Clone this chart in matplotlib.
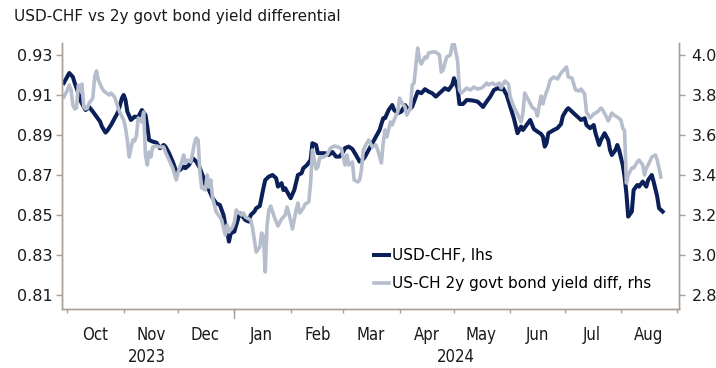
import matplotlib
matplotlib.use("Agg")
import matplotlib.pyplot as plt
import matplotlib.dates as mdates
import matplotlib.transforms as mtransforms
import pandas as pd

plt.rcParams['font.family'] = ['DejaVu Sans']

# USD-CHF spot (lhs)
usd_dates = [
    '2023-09-29', '2023-10-02', '2023-10-04', '2023-10-05', '2023-10-07', '2023-10-08',
    '2023-10-10', '2023-10-11', '2023-10-13', '2023-10-15', '2023-10-17', '2023-10-19',
    '2023-10-20', '2023-10-22', '2023-10-23', '2023-10-25', '2023-10-27', '2023-10-29',
    '2023-10-31', '2023-11-01', '2023-11-02', '2023-11-03', '2023-11-05', '2023-11-07',
    '2023-11-09', '2023-11-11', '2023-11-13', '2023-11-14', '2023-11-15', '2023-11-17',
    '2023-11-19', '2023-11-21', '2023-11-23', '2023-11-24', '2023-11-26', '2023-11-28',
    '2023-11-30', '2023-12-02', '2023-12-04', '2023-12-05', '2023-12-07', '2023-12-09',
    '2023-12-11', '2023-12-13', '2023-12-15', '2023-12-16', '2023-12-18', '2023-12-20',
    '2023-12-22', '2023-12-24', '2023-12-26', '2023-12-27', '2023-12-28', '2023-12-29',
    '2023-12-30', '2024-01-01', '2024-01-02', '2024-01-04', '2024-01-05', '2024-01-07',
    '2024-01-09', '2024-01-10', '2024-01-12', '2024-01-13', '2024-01-15', '2024-01-17',
    '2024-01-18', '2024-01-20', '2024-01-22', '2024-01-24', '2024-01-25', '2024-01-27',
    '2024-01-28', '2024-01-29', '2024-01-31', '2024-02-01', '2024-02-03', '2024-02-05',
    '2024-02-07', '2024-02-08', '2024-02-10', '2024-02-12', '2024-02-13', '2024-02-15',
    '2024-02-16', '2024-02-18', '2024-02-20', '2024-02-22', '2024-02-24', '2024-02-26',
    '2024-02-28', '2024-03-01', '2024-03-02', '2024-03-04', '2024-03-06', '2024-03-08',
    '2024-03-10', '2024-03-12', '2024-03-13', '2024-03-16', '2024-03-18', '2024-03-21',
    '2024-03-23', '2024-03-24', '2024-03-26', '2024-03-28', '2024-03-29', '2024-03-31',
    '2024-04-02', '2024-04-04', '2024-04-06', '2024-04-08', '2024-04-10', '2024-04-11',
    '2024-04-13', '2024-04-15', '2024-04-17', '2024-04-19', '2024-04-21', '2024-04-23',
    '2024-04-24', '2024-04-26', '2024-04-28', '2024-04-30', '2024-05-01', '2024-05-03',
    '2024-05-04', '2024-05-06', '2024-05-08', '2024-05-11', '2024-05-14', '2024-05-16',
    '2024-05-17', '2024-05-19', '2024-05-21', '2024-05-23', '2024-05-25', '2024-05-27',
    '2024-05-28', '2024-05-30', '2024-06-01', '2024-06-03', '2024-06-05', '2024-06-07',
    '2024-06-08', '2024-06-10', '2024-06-12', '2024-06-14', '2024-06-16', '2024-06-18',
    '2024-06-19', '2024-06-20', '2024-06-21', '2024-06-22', '2024-06-25', '2024-06-27',
    '2024-06-29', '2024-06-30', '2024-07-02', '2024-07-03', '2024-07-05', '2024-07-07',
    '2024-07-09', '2024-07-10', '2024-07-12', '2024-07-13', '2024-07-15', '2024-07-17',
    '2024-07-18', '2024-07-20', '2024-07-21', '2024-07-23', '2024-07-25', '2024-07-26',
    '2024-07-27', '2024-07-29', '2024-07-30', '2024-07-31', '2024-08-02', '2024-08-03',
    '2024-08-04', '2024-08-05', '2024-08-07', '2024-08-08', '2024-08-10', '2024-08-11',
    '2024-08-13', '2024-08-15', '2024-08-16', '2024-08-18', '2024-08-19', '2024-08-21',
    '2024-08-22', '2024-08-24',
]
usd_chf = [
    0.916, 0.921, 0.919, 0.916, 0.911, 0.9075,
    0.904, 0.9025, 0.904, 0.9017, 0.8992, 0.8967,
    0.8942, 0.8912, 0.8922, 0.895, 0.8984, 0.9017,
    0.9084, 0.910, 0.9075, 0.9017, 0.8975, 0.8992,
    0.8989, 0.9025, 0.900, 0.8942, 0.8875, 0.8867,
    0.8862, 0.8834, 0.885, 0.8842, 0.8809, 0.8767,
    0.8717, 0.8725, 0.8742, 0.8734, 0.875, 0.8784,
    0.8767, 0.8734, 0.8684, 0.865, 0.8625, 0.8584,
    0.8559, 0.855, 0.850, 0.845, 0.8417, 0.8367,
    0.8409, 0.8417, 0.845, 0.8509, 0.850, 0.8475,
    0.8467, 0.850, 0.8517, 0.8534, 0.8545, 0.8635,
    0.8675, 0.8692, 0.870, 0.8684, 0.8642, 0.8659,
    0.8625, 0.8634, 0.860, 0.8584, 0.8625, 0.870,
    0.8709, 0.8734, 0.875, 0.8775, 0.8859, 0.885,
    0.8809, 0.8809, 0.8809, 0.880, 0.8815, 0.8792,
    0.8792, 0.8817, 0.8835, 0.8842, 0.883, 0.880,
    0.8767, 0.878, 0.8792, 0.8842, 0.8875, 0.8925,
    0.8984, 0.8984, 0.9025, 0.905, 0.9025, 0.9009,
    0.9017, 0.905, 0.9025, 0.9042, 0.9092, 0.9117,
    0.9109, 0.9129, 0.9117, 0.9109, 0.9092, 0.9109,
    0.9117, 0.9134, 0.9125, 0.915, 0.9184, 0.9134,
    0.9055, 0.9055, 0.9075, 0.9073, 0.9067, 0.905,
    0.904, 0.9067, 0.9092, 0.9125, 0.9134, 0.9129,
    0.9134, 0.910, 0.9042, 0.8984, 0.8909, 0.8942,
    0.8925, 0.895, 0.8975, 0.893, 0.8917, 0.8905,
    0.8892, 0.8842, 0.8859, 0.8909, 0.8925, 0.8934,
    0.8955, 0.8995, 0.9025, 0.9034, 0.9017, 0.900,
    0.8984, 0.8975, 0.8984, 0.895, 0.8934, 0.895,
    0.8909, 0.885, 0.8875, 0.8909, 0.8875, 0.8825,
    0.880, 0.8825, 0.885, 0.8825, 0.875, 0.8692,
    0.8609, 0.8492, 0.8517, 0.8625, 0.865, 0.8642,
    0.8667, 0.8642, 0.8675, 0.870, 0.8667, 0.8592,
    0.8534, 0.8517,
]

# US-CH 2y government bond yield differential, % (rhs)
diff_dates = [
    '2023-09-29', '2023-10-01', '2023-10-02', '2023-10-03', '2023-10-04', '2023-10-05',
    '2023-10-06', '2023-10-07', '2023-10-08', '2023-10-09', '2023-10-10', '2023-10-11',
    '2023-10-12', '2023-10-13', '2023-10-15', '2023-10-16', '2023-10-17', '2023-10-18',
    '2023-10-20', '2023-10-21', '2023-10-24', '2023-10-25', '2023-10-27', '2023-10-29',
    '2023-10-30', '2023-11-01', '2023-11-02', '2023-11-03', '2023-11-04', '2023-11-06',
    '2023-11-07', '2023-11-08', '2023-11-09', '2023-11-11', '2023-11-12', '2023-11-13',
    '2023-11-14', '2023-11-15', '2023-11-16', '2023-11-17', '2023-11-19', '2023-11-21',
    '2023-11-23', '2023-11-24', '2023-11-26', '2023-11-28', '2023-11-30', '2023-12-01',
    '2023-12-03', '2023-12-04', '2023-12-05', '2023-12-06', '2023-12-08', '2023-12-09',
    '2023-12-10', '2023-12-11', '2023-12-12', '2023-12-13', '2023-12-14', '2023-12-16',
    '2023-12-17', '2023-12-18', '2023-12-19', '2023-12-20', '2023-12-22', '2023-12-24',
    '2023-12-25', '2023-12-26', '2023-12-27', '2023-12-28', '2023-12-29', '2023-12-31',
    '2024-01-01', '2024-01-02', '2024-01-03', '2024-01-05', '2024-01-06', '2024-01-07',
    '2024-01-08', '2024-01-10', '2024-01-11', '2024-01-12', '2024-01-13', '2024-01-15',
    '2024-01-16', '2024-01-17', '2024-01-18', '2024-01-19', '2024-01-20', '2024-01-21',
    '2024-01-23', '2024-01-25', '2024-01-27', '2024-01-29', '2024-01-30', '2024-01-31',
    '2024-02-02', '2024-02-04', '2024-02-05', '2024-02-06', '2024-02-08', '2024-02-09',
    '2024-02-11', '2024-02-12', '2024-02-13', '2024-02-15', '2024-02-16', '2024-02-17',
    '2024-02-19', '2024-02-21', '2024-02-23', '2024-02-25', '2024-02-27', '2024-02-29',
    '2024-03-01', '2024-03-02', '2024-03-03', '2024-03-04', '2024-03-06', '2024-03-07',
    '2024-03-09', '2024-03-10', '2024-03-11', '2024-03-12', '2024-03-14', '2024-03-15',
    '2024-03-17', '2024-03-19', '2024-03-20', '2024-03-22', '2024-03-23', '2024-03-24',
    '2024-03-25', '2024-03-27', '2024-03-28', '2024-03-29', '2024-03-31', '2024-04-01',
    '2024-04-02', '2024-04-04', '2024-04-05', '2024-04-07', '2024-04-08', '2024-04-09',
    '2024-04-11', '2024-04-12', '2024-04-13', '2024-04-15', '2024-04-16', '2024-04-17',
    '2024-04-19', '2024-04-21', '2024-04-23', '2024-04-24', '2024-04-25', '2024-04-26',
    '2024-04-27', '2024-04-29', '2024-04-30', '2024-05-01', '2024-05-03', '2024-05-04',
    '2024-05-05', '2024-05-07', '2024-05-08', '2024-05-10', '2024-05-12', '2024-05-14',
    '2024-05-16', '2024-05-17', '2024-05-19', '2024-05-20', '2024-05-22', '2024-05-24',
    '2024-05-26', '2024-05-27', '2024-05-29', '2024-05-31', '2024-06-01', '2024-06-03',
    '2024-06-05', '2024-06-07', '2024-06-08', '2024-06-09', '2024-06-11', '2024-06-13',
    '2024-06-15', '2024-06-16', '2024-06-17', '2024-06-18', '2024-06-19', '2024-06-20',
    '2024-06-22', '2024-06-23', '2024-06-25', '2024-06-27', '2024-06-29', '2024-07-01',
    '2024-07-02', '2024-07-03', '2024-07-05', '2024-07-07', '2024-07-09', '2024-07-10',
    '2024-07-12', '2024-07-13', '2024-07-15', '2024-07-17', '2024-07-19', '2024-07-21',
    '2024-07-22', '2024-07-24', '2024-07-25', '2024-07-27', '2024-07-28', '2024-07-30',
    '2024-08-01', '2024-08-02', '2024-08-03', '2024-08-04', '2024-08-05', '2024-08-07',
    '2024-08-08', '2024-08-10', '2024-08-11', '2024-08-13', '2024-08-14', '2024-08-15',
    '2024-08-16', '2024-08-18', '2024-08-20', '2024-08-21', '2024-08-22', '2024-08-23',
]
yield_diff = [
    3.79, 3.825, 3.85, 3.825, 3.75, 3.73,
    3.735, 3.85, 3.825, 3.855, 3.74, 3.73,
    3.735, 3.76, 3.785, 3.89, 3.92, 3.875,
    3.835, 3.82, 3.80, 3.81, 3.79, 3.735,
    3.71, 3.675, 3.635, 3.575, 3.49, 3.575,
    3.57, 3.595, 3.685, 3.665, 3.715, 3.50,
    3.45, 3.515, 3.49, 3.54, 3.545, 3.54,
    3.54, 3.515, 3.475, 3.435, 3.375, 3.415,
    3.465, 3.50, 3.46, 3.475, 3.465, 3.51,
    3.56, 3.585, 3.575, 3.415, 3.335, 3.325,
    3.40, 3.34, 3.375, 3.285, 3.215, 3.19,
    3.175, 3.135, 3.10, 3.15, 3.115, 3.14,
    3.165, 3.225, 3.215, 3.20, 3.21, 3.19,
    3.185, 3.175, 3.135, 3.075, 3.015, 3.04,
    3.11, 3.095, 2.915, 3.15, 3.225, 3.245,
    3.19, 3.145, 3.18, 3.20, 3.24, 3.21,
    3.13, 3.225, 3.26, 3.21, 3.235, 3.255,
    3.265, 3.36, 3.525, 3.43, 3.44, 3.485,
    3.49, 3.50, 3.535, 3.545, 3.54, 3.53,
    3.49, 3.45, 3.50, 3.45, 3.465, 3.375,
    3.365, 3.375, 3.425, 3.525, 3.56, 3.575,
    3.54, 3.55, 3.525, 3.46, 3.56, 3.625,
    3.59, 3.665, 3.65, 3.675, 3.715, 3.785,
    3.765, 3.74, 3.70, 3.735, 3.85, 3.86,
    4.035, 3.975, 3.955, 3.99, 3.985, 4.01,
    4.015, 4.015, 4.00, 3.915, 3.925, 3.96,
    3.99, 4.00, 4.05, 4.06, 3.97, 3.825,
    3.81, 3.825, 3.835, 3.825, 3.84, 3.83,
    3.835, 3.84, 3.86, 3.85, 3.86, 3.85,
    3.86, 3.835, 3.87, 3.855, 3.79, 3.74,
    3.705, 3.665, 3.71, 3.81, 3.775, 3.74,
    3.725, 3.695, 3.75, 3.795, 3.755, 3.79,
    3.84, 3.875, 3.89, 3.88, 3.91, 3.93,
    3.94, 3.89, 3.885, 3.825, 3.82, 3.83,
    3.805, 3.715, 3.685, 3.705, 3.715, 3.735,
    3.725, 3.69, 3.67, 3.71, 3.70, 3.69,
    3.675, 3.635, 3.62, 3.36, 3.40, 3.435,
    3.435, 3.465, 3.475, 3.45, 3.40, 3.435,
    3.45, 3.49, 3.50, 3.475, 3.435, 3.39,
]

left_ticks = [0.81, 0.83, 0.85, 0.87, 0.89, 0.91, 0.93]
right_ticks = [2.8, 3.0, 3.2, 3.4, 3.6, 3.8, 4.0]

navy = '#0b1f58'
grey = '#b6becd'
spine_col = '#a99f94'
txt_col = '#1a1a1a'

fig = plt.figure(figsize=(7.16, 3.68), dpi=100)
ax = fig.add_axes([62 / 716, 59 / 368, 617 / 716, 266 / 368])
ax2 = ax.twinx()

l1, = ax.plot(pd.to_datetime(usd_dates), usd_chf, color=navy, lw=2.9,
              solid_joinstyle='round', label='USD-CHF, lhs')
l2, = ax2.plot(pd.to_datetime(diff_dates), yield_diff, color=grey, lw=2.6,
               solid_joinstyle='round', label='US-CH 2y govt bond yield diff, rhs')

ax.set_xlim(pd.Timestamp('2023-09-28'), pd.Timestamp('2024-09-02'))
ax.set_ylim(0.803, 0.936)
ax2.set_ylim(2.73, 4.06)

ax.set_yticks(left_ticks)
ax.set_yticklabels([f'{v:.2f}' for v in left_ticks])
ax2.set_yticks(right_ticks)
ax2.set_yticklabels([f'{v:.1f}' for v in right_ticks])

for a in (ax, ax2):
    a.spines['top'].set_visible(False)
    for s in ('left', 'right', 'bottom'):
        a.spines[s].set_color(spine_col)
        a.spines[s].set_linewidth(1.0)
    a.tick_params(axis='y', direction='out', length=4, width=1, color=spine_col,
                  labelsize=11.5, labelcolor=txt_col, pad=3)
ax2.tick_params(axis='y', pad=5)

# month ticks at month starts, labels centred mid-month
narrow = dict(family='DejaVu Sans', stretch='condensed')
ax.xaxis.set_major_locator(mdates.MonthLocator())
ax.xaxis.set_major_formatter(plt.NullFormatter())
ax.xaxis.set_minor_locator(mdates.MonthLocator(bymonthday=16))
ax.xaxis.set_minor_formatter(mdates.DateFormatter('%b'))
ax.tick_params(axis='x', which='major', direction='out', length=3, width=1, color=spine_col)
ax.tick_params(axis='x', which='minor', length=0, pad=12, labelsize=12, labelcolor=txt_col)
for lab in ax.xaxis.get_minorticklabels():
    lab.set_fontstretch('condensed')

# year separator and year labels
trans = mtransforms.blended_transform_factory(ax.transData, ax.transAxes)
ax.plot([pd.Timestamp('2024-01-01')] * 2, [0, -0.035], color=spine_col, lw=1,
        transform=trans, clip_on=False)
ax.text(pd.Timestamp('2023-11-14'), -0.18, '2023', transform=trans, ha='center', va='center',
        fontsize=12, color=txt_col, **narrow)
ax.text(pd.Timestamp('2024-05-02'), -0.18, '2024', transform=trans, ha='center', va='center',
        fontsize=12, color=txt_col, **narrow)

fig.text(14 / 716, 1 - 17 / 368, 'USD-CHF vs 2y govt bond yield differential',
         ha='left', va='center', fontsize=11, color=txt_col)

fig.legend(handles=[l1, l2], loc='upper left', bbox_to_anchor=(374 / 716, 1 - 248 / 368),
           frameon=False, fontsize=11, handlelength=1.0, handletextpad=0.15,
           labelspacing=0.85, borderpad=0, borderaxespad=0)

fig.savefig('out.png', dpi=100)
